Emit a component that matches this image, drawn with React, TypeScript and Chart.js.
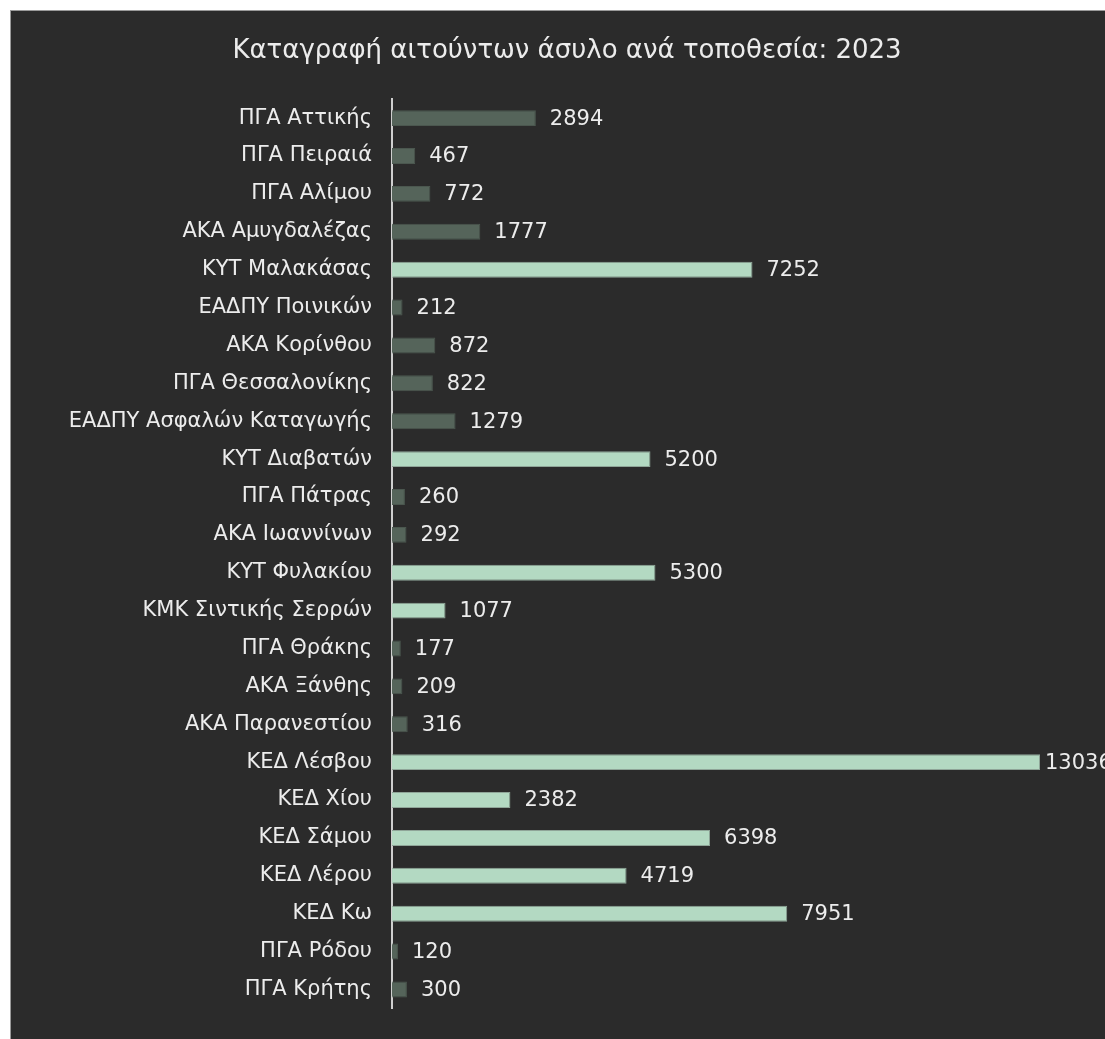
import React, { useEffect, useRef } from "react";
import { Chart, registerables } from "chart.js";

Chart.register(...registerables);

const TITLE = "Καταγραφή αιτούντων άσυλο ανά τοποθεσία: 2023";

const categories = [
  "ΠΓΑ Αττικής",
  "ΠΓΑ Πειραιά",
  "ΠΓΑ Αλίμου",
  "ΑΚΑ Αμυγδαλέζας",
  "ΚΥΤ Μαλακάσας",
  "ΕΑΔΠΥ Ποινικών",
  "ΑΚΑ Κορίνθου",
  "ΠΓΑ Θεσσαλονίκης",
  "ΕΑΔΠΥ Ασφαλών Καταγωγής",
  "ΚΥΤ Διαβατών",
  "ΠΓΑ Πάτρας",
  "ΑΚΑ Ιωαννίνων",
  "ΚΥΤ Φυλακίου",
  "ΚΜΚ Σιντικής Σερρών",
  "ΠΓΑ Θράκης",
  "ΑΚΑ Ξάνθης",
  "ΑΚΑ Παρανεστίου",
  "ΚΕΔ Λέσβου",
  "ΚΕΔ Χίου",
  "ΚΕΔ Σάμου",
  "ΚΕΔ Λέρου",
  "ΚΕΔ Κω",
  "ΠΓΑ Ρόδου",
  "ΠΓΑ Κρήτης",
];

const values = [
  2894, 467, 772, 1777, 7252, 212, 872, 822, 1279, 5200, 260, 292, 5300, 1077,
  177, 209, 316, 13036, 2382, 6398, 4719, 7951, 120, 300,
];

// Reception / identification centres are highlighted in light green
const receptionPrefixes = ["ΚΥΤ", "ΚΕΔ", "ΚΜΚ"];

const LIGHT = "#b3d9c2";
const LIGHT_BORDER = "#8fa598";
const DARK = "#55645a";
const DARK_BORDER = "#4b574f";
const TEXT = "#ececec";
const FONT = "'DejaVu Sans', sans-serif";

const isReception = categories.map((c) =>
  receptionPrefixes.some((p) => c.startsWith(p))
);

const valueLabels = {
  id: "valueLabels",
  afterDatasetsDraw(chart: any) {
    const ctx = chart.ctx;
    const meta = chart.getDatasetMeta(0);
    ctx.save();
    ctx.font = `21px ${FONT}`;
    ctx.fillStyle = TEXT;
    ctx.textAlign = "left";
    ctx.textBaseline = "middle";
    meta.data.forEach((bar: any, i: number) => {
      const v = String(chart.data.datasets[0].data[i]);
      const w = ctx.measureText(v).width;
      // keep labels of bars that reach the plot edge tight to the bar
      const gap = bar.x + 14 + w > chart.chartArea.right + 50 ? 5 : 14;
      ctx.fillText(v, bar.x + gap, bar.y + 1);
    });
    ctx.restore();
  },
};

export default function App() {
  const ref = useRef<HTMLCanvasElement | null>(null);

  useEffect(() => {
    if (!ref.current) return;
    const chart = new Chart(ref.current, {
      type: "bar",
      data: {
        labels: categories,
        datasets: [
          {
            data: values,
            backgroundColor: isReception.map((r) => (r ? LIGHT : DARK)),
            borderColor: isReception.map((r) => (r ? LIGHT_BORDER : DARK_BORDER)),
            borderWidth: 1,
            categoryPercentage: 1,
            barPercentage: 0.42,
          },
        ],
      },
      options: {
        indexAxis: "y",
        animation: false,
        responsive: false,
        maintainAspectRatio: false,
        layout: { padding: { left: 0, right: 0, top: 0, bottom: 23 } },
        plugins: {
          legend: { display: false },
          tooltip: { enabled: false },
          title: {
            display: true,
            text: TITLE,
            color: TEXT,
            font: { family: FONT, size: 26, weight: "normal" },
            padding: { top: 25, bottom: 32 },
          },
        },
        scales: {
          x: {
            display: false,
            min: 0,
            max: 13036,
          },
          y: {
            grid: { display: false, drawTicks: false },
            border: { display: true, color: "#cfcfcf", width: 2 },
            ticks: {
              color: TEXT,
              padding: 20,
              autoSkip: false,
              font: { family: FONT, size: 21 },
            },
            afterFit(scale: any) {
              scale.width = 381;
            },
          },
          // empty right-hand margin box (room for the value labels)
          yRight: {
            type: "category",
            axis: "y",
            position: "right",
            grid: { display: false, drawTicks: false },
            border: { display: false },
            ticks: { display: false },
            afterFit(scale: any) {
              scale.width = 83;
            },
          },
        },
      },
      plugins: [valueLabels],
    });
    return () => chart.destroy();
  }, []);

  return (
    <div
      style={{
        position: "fixed",
        left: 0,
        top: 0,
        width: 1105,
        height: 1039,
        background: "#ffffff",
        overflow: "hidden",
      }}
    >
      <div
        style={{
          position: "absolute",
          left: 10,
          top: 10,
          width: 1200,
          height: 1200,
          background: "#2b2b2b",
          borderTop: "1px solid #9a9a9a",
          borderLeft: "1px solid #9a9a9a",
        }}
      >
        <canvas
          ref={ref}
          width={1112}
          height={1030}
          style={{ display: "block", width: 1112, height: 1030 }}
        />
      </div>
    </div>
  );
}
